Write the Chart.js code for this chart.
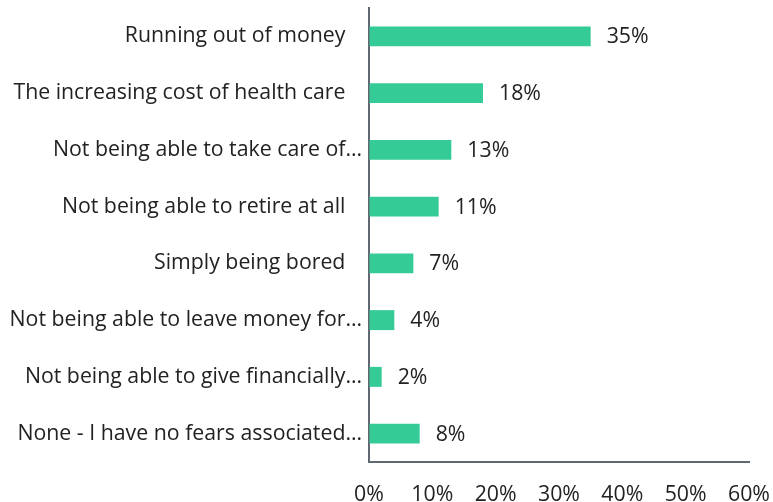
<!DOCTYPE html>
<html>
<head>
<meta charset="utf-8">
<script src="https://cdn.jsdelivr.net/npm/chart.js@4/dist/chart.umd.min.js"></script>
<style>
  html, body { margin: 0; padding: 0; background: #fff; }
  #wrap { width: 773px; height: 502px; position: relative; }
</style>
</head>
<body>
<div id="wrap"><canvas id="c"></canvas></div>
<script>
// Retirement fears survey: share of respondents per answer
const categories = [
  "Running out of money",
  "The increasing cost of health care",
  "Not being able to take care of…",
  "Not being able to retire at all",
  "Simply being bored",
  "Not being able to leave money for…",
  "Not being able to give financially…",
  "None - I have no fears associated…"
];
const shares = [35, 18, 13, 11, 7, 4, 2, 8];
const tickValues = [0, 10, 20, 30, 40, 50, 60];

const TEXT = '#222222';
const AXIS = '#5f6873';
const FONT = { family: '"Open Sans", sans-serif', size: 21.3 };

// Writes "NN%" just to the right of each bar
const valueLabels = {
  id: 'valueLabels',
  afterDatasetsDraw(chart) {
    const ctx = chart.ctx;
    const meta = chart.getDatasetMeta(0);
    ctx.save();
    ctx.font = `${FONT.size}px ${FONT.family}`;
    ctx.fillStyle = TEXT;
    ctx.textAlign = 'left';
    ctx.textBaseline = 'middle';
    meta.data.forEach((bar, i) => {
      ctx.fillText(shares[i] + '%', bar.x + 16, bar.y + 1);
    });
    ctx.restore();
  }
};

new Chart(document.getElementById('c'), {
  type: 'bar',
  data: {
    labels: categories,
    datasets: [{
      data: shares,
      backgroundColor: '#35cb96',
      borderWidth: 0,
      categoryPercentage: 1,
      barPercentage: 0.352
    }]
  },
  options: {
    indexAxis: 'y',
    responsive: true,
    maintainAspectRatio: false,
    animation: false,
    layout: { padding: { top: 8, right: 0, bottom: 0, left: 0 } },
    plugins: { legend: { display: false }, tooltip: { enabled: false } },
    scales: {
      x: {
        min: 0, max: 60,
        afterBuildTicks(scale) { scale.ticks = tickValues.map(v => ({ value: v })); },
        afterFit(scale) {
          scale.height = 40;
          scale.paddingLeft = 0;
          scale.paddingRight = 24;
        },
        grid: { display: true, color: 'rgba(0,0,0,0)', drawTicks: false },
        border: { display: true, color: AXIS, width: 2 },
        ticks: {
          color: TEXT, font: FONT, padding: 20, maxRotation: 0,
          callback: v => v + '%'
        }
      },
      y: {
        afterFit(scale) {
          scale.width = 369;
          scale.paddingTop = 0;
          scale.paddingBottom = 0;
        },
        grid: { display: true, color: 'rgba(0,0,0,0)', drawTicks: false },
        border: { display: true, color: AXIS, width: 2 },
        ticks: {
          color: TEXT, font: FONT, padding: 7, autoSkip: false,
          callback(v) {
            const s = categories[v];
            return s.endsWith('…') ? s : s + '   ';
          }
        }
      }
    }
  },
  plugins: [valueLabels]
});
</script>
</body>
</html>
